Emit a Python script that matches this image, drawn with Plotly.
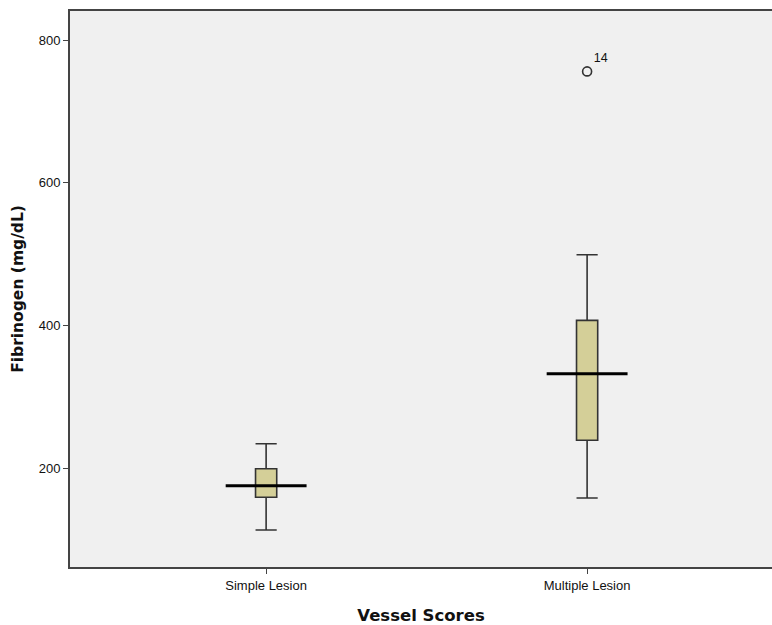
import plotly.graph_objects as go

categories = ["Simple Lesion", "Multiple Lesion"]
lower_whisker = [113, 158]
q1 = [159, 239]
median = [175, 332]
q3 = [199, 407]
upper_whisker = [234, 499]
outlier_cat = [1]
outlier_val = [756]
outlier_label = ["14"]
y_ticks = [200, 400, 600, 800]

box_fill = "#d4cf98"
edge = "#333333"
positions = list(range(len(categories)))

fig = go.Figure()
for i, cat in enumerate(categories):
    fig.add_trace(go.Box(
        x=[positions[i]], q1=[q1[i]], median=[median[i]], q3=[q3[i]],
        lowerfence=[lower_whisker[i]], upperfence=[upper_whisker[i]],
        width=0.066, whiskerwidth=1, fillcolor=box_fill,
        line=dict(color=edge, width=1.6), boxpoints=False,
        showlegend=False, hoverinfo="skip", name=cat,
    ))
    fig.add_trace(go.Scatter(
        x=[positions[i] - 0.126, positions[i] + 0.126], y=[median[i], median[i]],
        mode="lines", line=dict(color="black", width=3),
        showlegend=False, hoverinfo="skip",
    ))

fig.add_trace(go.Scatter(
    x=outlier_cat, y=outlier_val, mode="markers+text",
    marker=dict(symbol="circle-open", size=9, color="#333333", line=dict(width=1.6)),
    text=outlier_label, textposition="top right",
    textfont=dict(family="Liberation Sans, Arial", size=12.5, color="#111"),
    showlegend=False, hoverinfo="skip",
))

fig.update_layout(
    width=772, height=625,
    margin=dict(l=70, r=0, t=11, b=58),
    paper_bgcolor="white", plot_bgcolor="#f0f0f0",
    font=dict(family="Liberation Sans, Arial", size=13, color="#111"),
    xaxis=dict(
        range=[-0.611, 1.576], tickvals=positions, ticktext=categories,
        showgrid=False, zeroline=False, showline=True, linecolor="#444",
        linewidth=2, mirror=True, ticks="outside", ticklen=5, tickcolor="#444",
        tickfont=dict(size=13),
        title=dict(text="<b>Vessel Scores</b>",
                   font=dict(family="DejaVu Sans", size=16.5), standoff=19),
    ),
    yaxis=dict(
        range=[61.2, 840.7], tickvals=y_ticks,
        showgrid=False, zeroline=False, showline=True, linecolor="#444",
        linewidth=2, ticks="outside", ticklen=5, tickcolor="#444",
        tickfont=dict(size=13),
        title=dict(text="<b>Fibrinogen (mg/dL)</b>",
                   font=dict(family="DejaVu Sans", size=15.5), standoff=11),
    ),
)

fig.write_html(
    "out.html",
    config={"displayModeBar": False},
    post_script="document.body.style.margin='0';document.body.style.overflow='hidden';",
)
